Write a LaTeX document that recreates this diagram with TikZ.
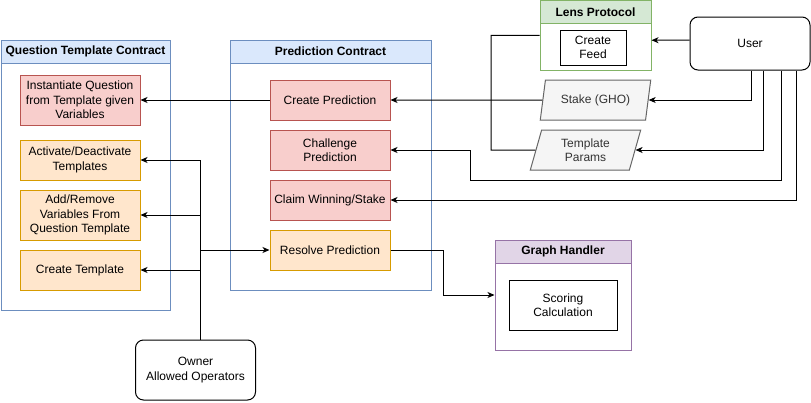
\documentclass[tikz,border=0pt]{standalone}
\usepackage{fontspec}
\setmainfont{Liberation Sans}
\usetikzlibrary{arrows.meta,shapes.geometric}

\definecolor{bluefill}{HTML}{DAE8FC}
\definecolor{blueline}{HTML}{6C8EBF}
\definecolor{redfill}{HTML}{F8CECC}
\definecolor{redline}{HTML}{B85450}
\definecolor{orangefill}{HTML}{FFE6CC}
\definecolor{orangeline}{HTML}{D79B00}
\definecolor{greenfill}{HTML}{D5E8D4}
\definecolor{greenline}{HTML}{82B366}
\definecolor{purplefill}{HTML}{E1D5E7}
\definecolor{purpleline}{HTML}{9673A6}
\definecolor{grayfill}{HTML}{F5F5F5}
\definecolor{grayline}{HTML}{666666}
\definecolor{graytext}{HTML}{333333}

\tikzset{
  box/.style={draw, minimum width=120, minimum height=40, align=center,
    inner sep=2pt, font=\fontsize{12}{14.5}\selectfont},
  redbox/.style={box, fill=redfill, draw=redline},
  orangebox/.style={box, fill=orangefill, draw=orangeline},
  plainbox/.style={box, fill=white, draw=black},
  actor/.style={box, fill=white, draw=black, rounded corners=8pt},
  databox/.style={box, trapezium, trapezium left angle=76, trapezium right angle=104,
    trapezium stretches=true, minimum width=111, fill=grayfill, draw=grayline,
    text=graytext},
  lane/.style={draw, fill=white, inner sep=0pt},
  lanehead/.style={draw, anchor=north, minimum height=23, inner sep=0pt,
    font=\fontsize{12}{14.5}\selectfont\bfseries}
}

\begin{document}
\begin{tikzpicture}[x=1pt,y=-1pt,line width=1pt,>={Stealth[length=7pt,width=6pt,inset=2pt]}]
  \useasboundingbox (0,0) rectangle (811,402);

  % Containers
  \node[lane, draw=blueline, minimum width=169, minimum height=270] (qtc) at (85.5,175) {};
  \node[lanehead, fill=bluefill, draw=blueline, minimum width=169] (qtchead) at (qtc.north) {Question Template Contract};
  \node[lane, draw=blueline, minimum width=201, minimum height=250] (pc) at (330.5,165) {};
  \node[lanehead, fill=bluefill, draw=blueline, minimum width=201] (pchead) at (pc.north) {Prediction Contract};
  \node[lane, draw=greenline, minimum width=111, minimum height=69.5] (lens) at (595.5,35.25) {};
  \node[lanehead, fill=greenfill, draw=greenline, minimum width=111] (lenshead) at (lens.north) {Lens Protocol};
  \node[lane, draw=purpleline, minimum width=136, minimum height=110] (graph) at (563,295) {};
  \node[lanehead, fill=purplefill, draw=purpleline, minimum width=136] (graphhead) at (graph.north) {Graph Handler};

  % Question template functions
  \node[redbox, minimum height=50] (instantiate) at (80,100) {Instantiate Question\\from Template given\\Variables};
  \node[orangebox] (activate) at (80,160) {Activate/Deactivate\\Templates};
  \node[orangebox, minimum height=50] (addremove) at (80,215) {Add/Remove\\Variables From\\Question Template};
  \node[orangebox] (createtpl) at (80,270) {Create Template};

  % Prediction functions
  \node[redbox] (createpred) at (330,100) {Create Prediction};
  \node[redbox] (challenge) at (330,150) {Challenge\\Prediction};
  \node[redbox] (claim) at (330,200) {Claim Winning/Stake};
  \node[orangebox] (resolve) at (330,250) {Resolve Prediction};

  % Others
  \node[plainbox, minimum width=66, minimum height=35] (feed) at (593,47.5) {Create\\Feed};
  \node[plainbox, minimum width=108, minimum height=50] (scoring) at (563,305) {Scoring\\Calculation};
  \node[actor, minimum height=53] (user) at (750,43.5) {User};
  \node[actor, minimum height=60] (owner) at (195.5,370) {Owner\\Allowed Operators};
  \node[databox] (stake) at (595.5,100) {Stake (GHO)};
  \node[databox] (tparams) at (585.5,150) {Template\\Params};

  % Bends
  \coordinate (chbend) at (470,180);
  \coordinate (tpbend) at (491,150);
  \coordinate (rsbend) at (443,295);

  % User calls
  \draw[->] ([yshift=3.5]user.west) -- ([yshift=-5]lens.east);
  \draw[->] ([xshift=1]user.south) |- (stake.east);
  \draw[->] ([xshift=13]user.south) |- (tparams.east);
  \draw[->] ([xshift=31]user.south) |- (chbend) |- (challenge.east);
  \draw[->] ([xshift=46]user.south) |- (claim.east);
  \draw (tparams.west) -- (tpbend) |- (lens.west);
  \draw[->] (stake.west) -- (createpred.east);
  \draw[->] (createpred.west) -- (instantiate.east);

  % Owner calls
  \draw[->] ([xshift=5]owner.north) |- (activate.east);
  \draw[->] ([xshift=5]owner.north) |- (addremove.east);
  \draw[->] ([xshift=5]owner.north) |- (createtpl.east);
  \draw[->] ([xshift=5]owner.north) |- (resolve.west);

  % Scoring
  \draw[->] (resolve.east) -| (rsbend) -- (graph.west);
\end{tikzpicture}
\end{document}
